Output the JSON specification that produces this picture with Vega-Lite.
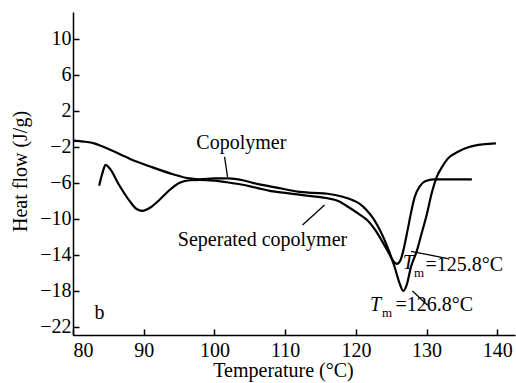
{
  "$schema": "https://vega.github.io/schema/vega-lite/v6.json",
  "autosize": {"type": "none"},
  "padding": {"left": 73, "top": 12, "right": 1, "bottom": 48},
  "width": 442,
  "height": 323,
  "config": {
    "view": {"stroke": null},
    "font": "Liberation Serif",
    "axis": {"grid": false, "domainColor": "black", "tickColor": "black", "labelColor": "black", "titleColor": "black", "labelFont": "Liberation Serif", "titleFont": "Liberation Serif", "labelFontSize": 20, "titleFontSize": 20, "titleFontWeight": "normal", "domainWidth": 1.5, "tickWidth": 1.5}
  },
  "datasets": {
    "curves": [
      {"series": "Copolymer", "t": 80, "h": -1.3},
      {"series": "Copolymer", "t": 81.5, "h": -1.4},
      {"series": "Copolymer", "t": 83, "h": -1.6},
      {"series": "Copolymer", "t": 84, "h": -1.9},
      {"series": "Copolymer", "t": 85.5, "h": -2.4},
      {"series": "Copolymer", "t": 88, "h": -3.3},
      {"series": "Copolymer", "t": 91, "h": -4.2},
      {"series": "Copolymer", "t": 94, "h": -5.0},
      {"series": "Copolymer", "t": 96.5, "h": -5.5},
      {"series": "Copolymer", "t": 98, "h": -5.6},
      {"series": "Copolymer", "t": 100, "h": -5.5},
      {"series": "Copolymer", "t": 102, "h": -5.5},
      {"series": "Copolymer", "t": 104, "h": -5.7},
      {"series": "Copolymer", "t": 106, "h": -6.1},
      {"series": "Copolymer", "t": 108, "h": -6.4},
      {"series": "Copolymer", "t": 110, "h": -6.7},
      {"series": "Copolymer", "t": 112, "h": -7.0},
      {"series": "Copolymer", "t": 114, "h": -7.1},
      {"series": "Copolymer", "t": 116, "h": -7.2},
      {"series": "Copolymer", "t": 118, "h": -7.5},
      {"series": "Copolymer", "t": 119.5, "h": -7.9},
      {"series": "Copolymer", "t": 120.5, "h": -8.3},
      {"series": "Copolymer", "t": 121.5, "h": -9.0},
      {"series": "Copolymer", "t": 122.5, "h": -10.0},
      {"series": "Copolymer", "t": 123.5, "h": -11.4},
      {"series": "Copolymer", "t": 124.5, "h": -13.2},
      {"series": "Copolymer", "t": 125.5, "h": -15.4},
      {"series": "Copolymer", "t": 126.2, "h": -17.2},
      {"series": "Copolymer", "t": 126.7, "h": -18.0},
      {"series": "Copolymer", "t": 127.2, "h": -17.3},
      {"series": "Copolymer", "t": 127.8, "h": -15.3},
      {"series": "Copolymer", "t": 128.6, "h": -13.6},
      {"series": "Copolymer", "t": 129.3, "h": -11.6},
      {"series": "Copolymer", "t": 130, "h": -9.6},
      {"series": "Copolymer", "t": 130.7, "h": -7.2},
      {"series": "Copolymer", "t": 131.4, "h": -5.4},
      {"series": "Copolymer", "t": 132.2, "h": -4.2},
      {"series": "Copolymer", "t": 133, "h": -3.3},
      {"series": "Copolymer", "t": 134.5, "h": -2.5},
      {"series": "Copolymer", "t": 136, "h": -2.0},
      {"series": "Copolymer", "t": 138, "h": -1.7},
      {"series": "Copolymer", "t": 139.8, "h": -1.6},
      {"series": "Seperated", "t": 83.7, "h": -6.3},
      {"series": "Seperated", "t": 84.2, "h": -4.8},
      {"series": "Seperated", "t": 84.6, "h": -4.0},
      {"series": "Seperated", "t": 85.2, "h": -4.4},
      {"series": "Seperated", "t": 86.5, "h": -6.2},
      {"series": "Seperated", "t": 88, "h": -8.0},
      {"series": "Seperated", "t": 89, "h": -8.9},
      {"series": "Seperated", "t": 89.8, "h": -9.1},
      {"series": "Seperated", "t": 91, "h": -8.7},
      {"series": "Seperated", "t": 92.2, "h": -7.9},
      {"series": "Seperated", "t": 93.5, "h": -6.9},
      {"series": "Seperated", "t": 95, "h": -6.0},
      {"series": "Seperated", "t": 96.5, "h": -5.7},
      {"series": "Seperated", "t": 98, "h": -5.65},
      {"series": "Seperated", "t": 100, "h": -5.75},
      {"series": "Seperated", "t": 102, "h": -5.95},
      {"series": "Seperated", "t": 104, "h": -6.2},
      {"series": "Seperated", "t": 106, "h": -6.55},
      {"series": "Seperated", "t": 108, "h": -6.9},
      {"series": "Seperated", "t": 110, "h": -7.1},
      {"series": "Seperated", "t": 112, "h": -7.3},
      {"series": "Seperated", "t": 114, "h": -7.5},
      {"series": "Seperated", "t": 116, "h": -7.7},
      {"series": "Seperated", "t": 117.5, "h": -8.0},
      {"series": "Seperated", "t": 119, "h": -8.7},
      {"series": "Seperated", "t": 120.5, "h": -9.5},
      {"series": "Seperated", "t": 121.7, "h": -10.2},
      {"series": "Seperated", "t": 122.8, "h": -11.3},
      {"series": "Seperated", "t": 123.8, "h": -12.6},
      {"series": "Seperated", "t": 124.8, "h": -14.0},
      {"series": "Seperated", "t": 125.4, "h": -14.8},
      {"series": "Seperated", "t": 125.8, "h": -15.0},
      {"series": "Seperated", "t": 126.3, "h": -14.6},
      {"series": "Seperated", "t": 126.8, "h": -13.2},
      {"series": "Seperated", "t": 127.3, "h": -11.3},
      {"series": "Seperated", "t": 127.8, "h": -9.3},
      {"series": "Seperated", "t": 128.3, "h": -7.6},
      {"series": "Seperated", "t": 129, "h": -6.4},
      {"series": "Seperated", "t": 129.8, "h": -5.8},
      {"series": "Seperated", "t": 131, "h": -5.6},
      {"series": "Seperated", "t": 133, "h": -5.6},
      {"series": "Seperated", "t": 136.4, "h": -5.6}
    ],
    "leaders": [
      {"t": 101.43, "h": -3.11, "t2": 101.85, "h2": -5.33},
      {"t": 112.46, "h": -10.67, "t2": 115.57, "h2": -8.44},
      {"t": 127.8, "h": -13.6, "t2": 133.0, "h2": -14.4},
      {"t": 128.0, "h": -18.0, "t2": 130.14, "h2": -19.6}
    ],
    "centerLabels": [
      {"t": 103.8, "h": -1.56, "label": "Copolymer"},
      {"t": 106.8, "h": -12.33, "label": "Seperated copolymer"},
      {"t": 83.75, "h": -20.4, "label": "b"}
    ],
    "leftLabels": [
      {"t": 129.85, "h": -15.1, "label": "=125.8°C"},
      {"t": 125.6, "h": -19.56, "label": "=126.8°C"}
    ],
    "tsym": [
      {"t": 127.4, "h": -14.9, "label": "T"},
      {"t": 122.79, "h": -19.56, "label": "T"}
    ],
    "msub": [
      {"t": 128.95, "h": -16.0, "label": "m"},
      {"t": 124.4, "h": -20.5, "label": "m"}
    ]
  },
  "layer": [
    {
      "data": {"name": "curves"},
      "mark": {"type": "line", "interpolate": "monotone", "color": "black", "strokeWidth": 2.2},
      "encoding": {
        "x": {"field": "t", "type": "quantitative", "scale": {"domain": [80, 142.5], "nice": false, "zero": false},
              "axis": {"values": [80, 90, 100, 110, 120, 130, 140], "tickSize": -6, "labelPadding": 27, "labelBaseline": "alphabetic", "title": "Temperature (°C)", "titleX": 210, "titleY": 41, "titleBaseline": "alphabetic"}},
        "y": {"field": "h", "type": "quantitative", "scale": {"domain": [-22.9, 13], "nice": false, "zero": false},
              "axis": {"values": [10, 6, 2, -2, -6, -10, -14, -18, -22], "tickSize": -6, "labelPadding": 8, "title": "Heat flow (J/g)", "titleX": -53, "titleY": 159, "titleAngle": -90, "titleBaseline": "middle", "titleAlign": "center"}},
        "detail": {"field": "series", "type": "nominal"}
      }
    },
    {
      "data": {"name": "leaders"},
      "mark": {"type": "rule", "color": "black", "strokeWidth": 1.3},
      "encoding": {
        "x": {"field": "t", "type": "quantitative"},
        "y": {"field": "h", "type": "quantitative"},
        "x2": {"field": "t2"},
        "y2": {"field": "h2"}
      }
    },
    {
      "data": {"name": "centerLabels"},
      "mark": {"type": "text", "font": "Liberation Serif", "fontSize": 20, "color": "black", "baseline": "middle", "align": "center"},
      "encoding": {
        "x": {"field": "t", "type": "quantitative"},
        "y": {"field": "h", "type": "quantitative"},
        "text": {"field": "label"}
      }
    },
    {
      "data": {"name": "leftLabels"},
      "mark": {"type": "text", "font": "Liberation Serif", "fontSize": 20, "color": "black", "baseline": "middle", "align": "left"},
      "encoding": {
        "x": {"field": "t", "type": "quantitative"},
        "y": {"field": "h", "type": "quantitative"},
        "text": {"field": "label"}
      }
    },
    {
      "data": {"name": "tsym"},
      "mark": {"type": "text", "font": "Liberation Serif", "fontSize": 20, "fontStyle": "italic", "color": "black", "baseline": "middle", "align": "center"},
      "encoding": {
        "x": {"field": "t", "type": "quantitative"},
        "y": {"field": "h", "type": "quantitative"},
        "text": {"field": "label"}
      }
    },
    {
      "data": {"name": "msub"},
      "mark": {"type": "text", "font": "Liberation Serif", "fontSize": 13, "color": "black", "baseline": "middle", "align": "center"},
      "encoding": {
        "x": {"field": "t", "type": "quantitative"},
        "y": {"field": "h", "type": "quantitative"},
        "text": {"field": "label"}
      }
    }
  ]
}
